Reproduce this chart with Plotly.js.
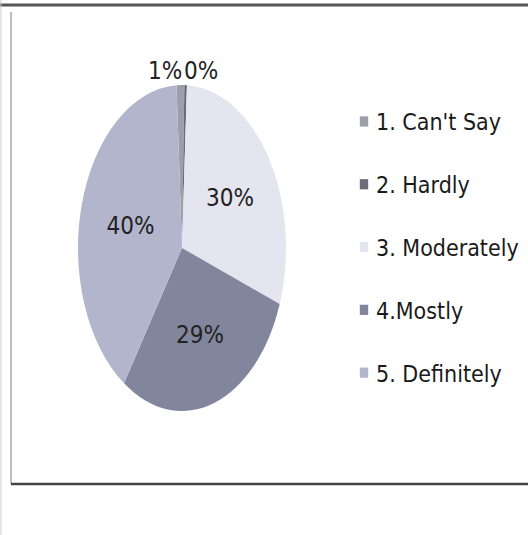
<!DOCTYPE html>
<html>
<head>
<meta charset="utf-8">
<script src="https://cdn.plot.ly/plotly-3.0.1.min.js"></script>
<style>
  html, body { margin: 0; padding: 0; background: #ffffff; }
  #chart { width: 528px; height: 535px; }
</style>
</head>
<body>
<div id="chart"></div>
<script>
// ---- data ----
const categories = ["1. Can't Say", "2. Hardly", "3. Moderately", "4.Mostly", "5. Definitely"];
const values = [1.2, 0.4, 30, 29, 40];
const sliceColors = ["#9c9eaa", "#6a6c7a", "#e4e5ee", "#82869c", "#b2b5cb"];
const textPositions = ["outside", "outside", "inside", "inside", "inside"];

const FONT = "'DejaVu Sans Condensed', 'Liberation Sans Narrow', sans-serif";

// legend labels get a blank second line to reproduce the wide item spacing
const legendLabels = categories.map(c => c + '<br> ');

const W = 528, H = 535;
const cxPx = 182, cyPx = 248, rPx = 163;
const ellipseScale = 104 / 163;

const data = [{
  type: 'pie',
  labels: legendLabels,
  values: values,
  sort: false,
  direction: 'clockwise',
  rotation: -3,
  marker: { colors: sliceColors, line: { width: 0 } },
  textinfo: 'percent',
  texttemplate: '%{percent:.0%}',
  textposition: textPositions,
  insidetextorientation: 'horizontal',
  textfont: { family: FONT, size: 24, color: '#222222' },
  hoverinfo: 'skip',
  domain: {
    x: [(cxPx - rPx) / W, (cxPx + rPx) / W],
    y: [1 - (cyPx + rPx) / H, 1 - (cyPx - rPx) / H]
  }
}];

const layout = {
  width: W, height: H,
  margin: { l: 0, r: 0, t: 0, b: 0 },
  paper_bgcolor: '#ffffff',
  showlegend: true,
  legend: {
    x: 336 / W, xanchor: 'left',
    y: 1 - 100 / H, yanchor: 'top',
    font: { family: FONT, size: 23, color: '#1a1a1a' },
    valign: 'top',
    bgcolor: 'rgba(0,0,0,0)',
    traceorder: 'normal'
  },
  shapes: [
    { type: 'line', xref: 'paper', yref: 'paper', x0: 0, x1: 1, y0: 1 - 5 / H, y1: 1 - 5 / H, line: { color: '#555555', width: 3 } },
    { type: 'line', xref: 'paper', yref: 'paper', x0: 11 / W, x1: 11 / W, y0: 1 - 12 / H, y1: 1 - 484 / H, line: { color: '#aaaaaa', width: 1.5 } },
    { type: 'line', xref: 'paper', yref: 'paper', x0: 11 / W, x1: 1, y0: 1 - 484 / H, y1: 1 - 484 / H, line: { color: '#444444', width: 2.5 } },
    { type: 'line', xref: 'paper', yref: 'paper', x0: 1 / W, x1: 1 / W, y0: 1, y1: 0, line: { color: '#cccccc', width: 1 } }
  ]
};

Plotly.newPlot('chart', data, layout, { staticPlot: true }).then(gd => {
  // squash the round pie into the ellipse seen in the reference, keeping text upright
  const cd = gd.calcdata[0][0];
  const cx = cd.cx, cy = cd.cy;
  const traceG = gd.querySelector('.pielayer .trace');
  if (traceG) {
    traceG.setAttribute('transform',
      'translate(' + cx + ',' + cy + ') scale(' + ellipseScale + ',1) translate(' + (-cx) + ',' + (-cy) + ')');
    traceG.querySelectorAll('text').forEach(t => {
      const tr = t.getAttribute('transform') || '';
      const fixed = tr.replace(/^(\s*translate\([^)]*\))/, '$1 scale(' + (1 / ellipseScale) + ',1)');
      t.setAttribute('transform', fixed === tr ? tr + ' scale(' + (1 / ellipseScale) + ',1)' : fixed);
    });
  }
  // smaller legend swatches sitting close to the text, as in the reference
  gd.querySelectorAll('.legend path.legendpie').forEach(p => {
    p.setAttribute('transform', 'translate(28,0) scale(0.7,0.85)');
  });
});
</script>
</body>
</html>
